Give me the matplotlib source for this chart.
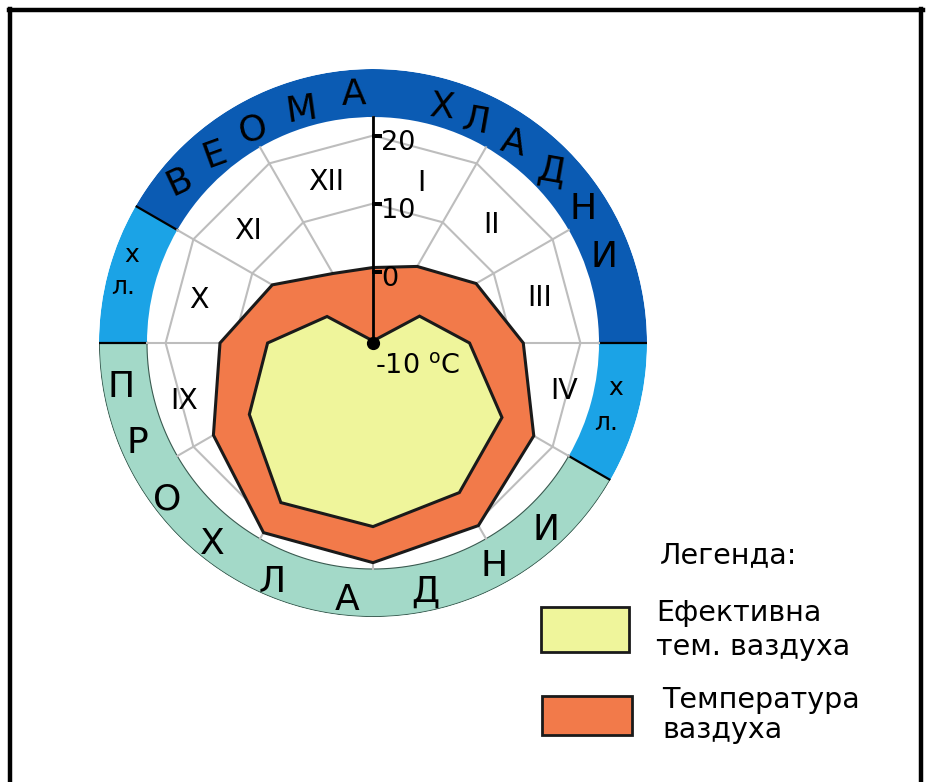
import numpy as np
import matplotlib
matplotlib.use("Agg")
import matplotlib.pyplot as plt
from matplotlib.transforms import offset_copy
from matplotlib.patches import Rectangle
from matplotlib.lines import Line2D

plt.rcParams['font.family'] = ['DejaVu Sans']
plt.rcParams['mathtext.fontset'] = 'dejavusans'

# ---------------- data ----------------
spoke_deg = [0, 30, 60, 90, 120, 150, 180, 210, 240, 270, 300, 330]
air_temp = [0.6, 2.5, 7.0, 11.6, 16.8, 20.5, 21.8, 21.7, 16.6, 12.0, 6.6, 1.3]
effective_temp = [-10.0, -10.0, -2.6, 3.7, 11.4, 14.9, 16.5, 16.6, 10.5, 5.0, -2.7, -10.0]
grid_levels = [0, 10, 20]
tick_labels = ['0', '10', '20']
month_labels = ['I', 'II', 'III', 'IV', 'IX', 'X', 'XI', 'XII']
ring_segments = ['very_cold', 'cold_right', 'cool', 'cold_left']
ring_top_letters = list('ВЕОМАХЛАДНИ')
ring_bottom_letters = list('ПРОХЛАДНИ')
legend_title = 'Легенда:'
legend_items = ['Ефективна\nтем. ваздуха', 'Температура\nваздуха']

# ---------------- layout / style ----------------
W, H = 931, 782
CX, CY = 373, 343          # centre in pixels
R_OUT = 274                # outer ring radius px
PX_PER_DEG = 6.8
RMIN = -10.5
RMAX = RMIN + R_OUT / PX_PER_DEG
R_IN_V = RMIN + 226 / PX_PER_DEG

C_DARK = '#0B5BB3'
C_LIGHT = '#1BA3E6'
C_TEAL = '#A3D9C8'
C_ORANGE = '#F27A4A'
C_YELLOW = '#EFF59B'
C_GRID = '#BDBDBD'

FS_TICK = 19.5
FS_MONTH = 20.5
FS_RING = 26
FS_SMALL = 18
FS_LEG = 20.5

seg_span = {'very_cold': (300, 450, C_DARK), 'cold_right': (90, 120, C_LIGHT),
            'cool': (120, 270, C_TEAL), 'cold_left': (270, 300, C_LIGHT)}

month_pos = {'I': (16.7, 167), 'II': (45, 167), 'III': (75, 172), 'IV': (104, 197),
             'IX': (253, 197), 'X': (284, 179), 'XI': (312, 168), 'XII': (343.7, 168)}
top_pos = [(309.7, 252, 25), (320, 246, 20), (330.6, 245, 14), (343, 244, 8), (355.6, 249, 2),
           (16.3, 246, -6), (25, 244, -10), (35, 244, -14), (46, 247, -10), (57.5, 249, 0),
           (69.6, 246, 0)]
bottom_pos = [(260.2, 256), (247, 256), (232.7, 259), (218.6, 257), (202.9, 259),
              (185.7, 258), (168, 254), (151.6, 254), (137.3, 254.5)]


def rv(px):
    return RMIN + px / PX_PER_DEG


fig = plt.figure(figsize=(W / 100, H / 100), dpi=100)
fig.patch.set_facecolor('white')

ax = fig.add_axes([(CX - R_OUT) / W, (H - CY - R_OUT) / H, 2 * R_OUT / W, 2 * R_OUT / H],
                  projection='polar')
ax.set_theta_zero_location('N')
ax.set_theta_direction(-1)
ax.set_rlim(RMIN, RMAX)
ax.set_facecolor('white')
ax.grid(False)
ax.set_xticks([])
ax.set_yticks([])
ax.spines['polar'].set_visible(False)

# ring
for key in ring_segments:
    a0, a1, col = seg_span[key]
    th0 = np.deg2rad(a0)
    th1 = np.deg2rad(a1)
    ax.bar((th0 + th1) / 2, RMAX - R_IN_V, width=th1 - th0, bottom=R_IN_V,
           color=col, edgecolor='none', zorder=1)
# teal outline
tt = np.deg2rad(np.linspace(120, 270, 200))
ax.plot(tt, np.full_like(tt, RMAX - 0.05), color='#3a5a50', lw=0.8, zorder=2)
ax.plot(tt, np.full_like(tt, R_IN_V), color='#3a5a50', lw=0.8, zorder=2)
for a in [90, 120, 270, 300]:
    ax.plot([np.deg2rad(a)] * 2, [R_IN_V, RMAX], color='black', lw=1.6, zorder=2)

# spokes and polygon grid
th = np.deg2rad(spoke_deg)
for t in th:
    ax.plot([t, t], [RMIN, R_IN_V], color=C_GRID, lw=1.5, zorder=2)
thc = np.append(th, th[0])
for lv in grid_levels:
    ax.plot(thc, np.full_like(thc, lv), color=C_GRID, lw=1.5, zorder=2)

# data polygons
air_c = np.append(air_temp, air_temp[0])
eff_c = np.append(effective_temp, effective_temp[0])
ax.fill(thc, air_c, facecolor=C_ORANGE, edgecolor='#1a1a1a', lw=2.2, zorder=3)
ax.fill(thc, eff_c, facecolor=C_YELLOW, edgecolor='#1a1a1a', lw=2.2, zorder=4)

# vertical axis with ticks
ax.plot([0, 0], [RMIN, R_IN_V], color='black', lw=2, zorder=6)
ax.plot([0], [RMIN], 'o', color='black', ms=8.5, zorder=7)
for lv, lab in zip(grid_levels, tick_labels):
    ax.add_line(Line2D([0, 0], [lv, lv], color='black', lw=1.5, zorder=6,
                       transform=offset_copy(ax.transData, fig=fig, x=4, y=0, units='dots'),
                       marker='_', ms=7, mew=1.5))
    ax.text(0, lv, lab, transform=offset_copy(ax.transData, fig=fig, x=8, y=-7, units='dots'),
            ha='left', va='center', fontsize=FS_TICK, zorder=8)
ax.text(0, RMIN, r'-10 $^{\mathrm{o}}$C',
        transform=offset_copy(ax.transData, fig=fig, x=2, y=-30, units='dots'),
        ha='left', va='baseline', fontsize=FS_TICK, zorder=8)

# month labels
for m in month_labels:
    a, r = month_pos[m]
    ax.text(np.deg2rad(a), rv(r), m, ha='center', va='center', fontsize=FS_MONTH, zorder=8)

# ring letters
for ch, (a, r, rot) in zip(ring_top_letters, top_pos):
    ax.text(np.deg2rad(a), rv(r), ch, ha='center', va='center', fontsize=FS_RING,
            rotation=rot, zorder=8)
for ch, (a, r) in zip(ring_bottom_letters, bottom_pos):
    ax.text(np.deg2rad(a), rv(r), ch, ha='center', va='center', fontsize=FS_RING, zorder=8)
for (a1, r1), (a2, r2) in [((290, 257), (282.6, 256)), ((100.5, 247), (109, 247))]:
    ax.text(np.deg2rad(a1), rv(r1), 'х', ha='center', va='center', fontsize=FS_SMALL, zorder=8)
    ax.text(np.deg2rad(a2), rv(r2), 'л.', ha='center', va='center', fontsize=FS_SMALL, zorder=8)


# legend
def fx(x):
    return x / W


def fy(y):
    return 1 - y / H


fig.text(fx(660), fy(563), legend_title, ha='left', va='baseline', fontsize=FS_LEG)
box_rects = [(541, 607, 629, 652), (542, 696, 632, 735)]
box_cols = [C_YELLOW, C_ORANGE]
text_lines = [((656, 621), (656, 655)), ((662, 708), (662, 738))]
for (x0, y0, x1, y1), col, item, lines in zip(box_rects, box_cols, legend_items, text_lines):
    fig.add_artist(Rectangle((fx(x0), fy(y1)), fx(x1) - fx(x0), fy(y0) - fy(y1),
                             facecolor=col, edgecolor='#1a1a1a', lw=2,
                             transform=fig.transFigure))
    for (tx, ty), txt in zip(lines, item.split('\n')):
        fig.text(fx(tx), fy(ty), txt, ha='left', va='baseline', fontsize=FS_LEG)

# frame
frame_kw = dict(color='black', lw=3.2, transform=fig.transFigure)
fig.add_artist(Line2D([fx(10), fx(10)], [fy(9), fy(800)], **frame_kw))
fig.add_artist(Line2D([fx(8.5), fx(922.5)], [fy(10), fy(10)], **frame_kw))
fig.add_artist(Line2D([fx(921), fx(921)], [fy(9), fy(800)], **frame_kw))

fig.savefig('out.png', dpi=100, facecolor='white')
